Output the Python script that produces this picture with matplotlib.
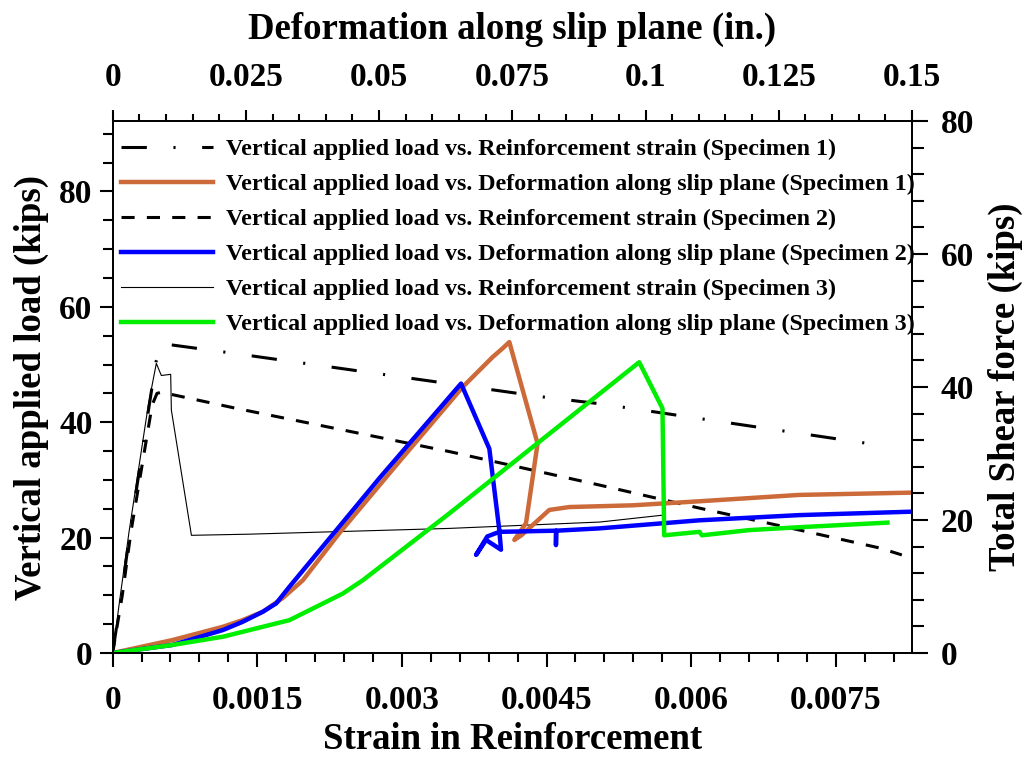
import matplotlib
matplotlib.use("Agg")
import matplotlib.pyplot as plt
from matplotlib.ticker import FixedLocator, MultipleLocator, FuncFormatter

plt.rcParams['font.family'] = ['Liberation Serif', 'DejaVu Serif']
plt.rcParams['font.weight'] = 'bold'

# ---- reinforcement strain vs. vertical load (bottom axis) ----
s1_strain = [0, 0.00009, 0.00018, 0.00028, 0.00038, 0.00045, 0.000522,
             0.001231, 0.004499, 0.005052, 0.007801]
s1_load = [0, 10, 21, 32, 43, 50.5, 53.6, 52.0, 44.3, 43.2, 36.4]

s2_strain = [0, 0.0001, 0.00019, 0.00030, 0.00041, 0.00046, 0.000505,
             0.000643, 0.001283, 0.003496, 0.005052, 0.006089, 0.007127,
             0.007956, 0.008185]
s2_load = [0, 10, 21, 32, 43, 45, 45.2, 44.7, 42.4, 34.9, 29.1, 25.1, 21.3,
           18.2, 17.0]

s3_strain = [0, 0.00008, 0.00017, 0.00027, 0.00037, 0.000453, 0.000505,
             0.000602, 0.000609, 0.000817, 0.001421, 0.003496, 0.005052,
             0.005709]
s3_load = [0, 10, 21, 32, 43, 50.2, 48.1, 48.3, 42.1, 20.4, 20.6, 21.6,
           22.7, 23.9]

# ---- deformation along slip plane vs. vertical load (top axis) ----
d1_def = [0, 0.01125, 0.02068, 0.02438, 0.02818, 0.03188, 0.03568, 0.04256,
          0.05381, 0.06568, 0.07131, 0.07318, 0.07444, 0.07974, 0.07757,
          0.07538, 0.0767, 0.08194, 0.08569, 0.09756, 0.1101, 0.1288, 0.15]
d1_load = [0, 2.25, 4.55, 5.7, 7.15, 9.5, 12.6, 20.8, 33.2, 46.1, 51.3,
           52.8, 53.9, 36.3, 22.5, 19.6, 20.4, 24.8, 25.3, 25.6, 26.3, 27.4,
           27.8]

d2_def = [0, 0.01125, 0.02068, 0.02438, 0.02818, 0.03069, 0.03319, 0.05006,
          0.06538, 0.07069, 0.07256, 0.07288, 0.07007, 0.0682, 0.0703,
          0.07256, 0.08319, 0.08319, 0.08325, 0.09131, 0.1101, 0.1288, 0.15]
d2_load = [0, 1.4, 3.98, 5.4, 7.15, 8.6, 11.5, 30.3, 46.7, 35.4, 21.3, 17.9,
           19.6, 17.0, 20.2, 21.0, 21.2, 18.7, 21.2, 21.6, 23.0, 23.9, 24.5]

d3_def = [0, 0.01125, 0.02068, 0.02818, 0.03319, 0.03819, 0.04318, 0.04693,
          0.06319, 0.09881, 0.10318, 0.1035, 0.1101, 0.1106, 0.1194, 0.1288,
          0.1454]
d3_load = [0, 1.4, 2.82, 4.55, 5.7, 8.0, 10.3, 12.6, 24.2, 50.4, 42.4, 20.4,
           21.0, 20.4, 21.3, 21.8, 22.6]

strain_ticks = [0, 0.0015, 0.003, 0.0045, 0.006, 0.0075]
def_ticks = [0, 0.025, 0.05, 0.075, 0.1, 0.125, 0.15]
load_ticks = [0, 20, 40, 60, 80]
shear_ticks = [0, 20, 40, 60, 80]

labels = [
    "Vertical applied load vs. Reinforcement strain (Specimen 1)",
    "Vertical applied load vs. Deformation along slip plane (Specimen 1)",
    "Vertical applied load vs. Reinforcement strain (Specimen 2)",
    "Vertical applied load vs. Deformation along slip plane (Specimen 2)",
    "Vertical applied load vs. Reinforcement strain (Specimen 3)",
    "Vertical applied load vs. Deformation along slip plane (Specimen 3)",
]

ORANGE = '#CD6A3A'
BLUE = '#0000FF'
GREEN = '#00EE00'

fig = plt.figure(figsize=(10.24, 7.58), dpi=100)
ax = fig.add_axes([0.110, 0.1385, 0.7806, 0.7018])
ax_top = ax.twiny()
ax_r = ax.twinx()

tick_fs = 24
lbl_fs = 26.5

l1, = ax.plot(s1_strain, s1_load, color='k', lw=2.2, dashes=(8.3, 8.7, 0.7, 8.7))
l3, = ax.plot(s2_strain, s2_load, color='k', lw=2.2, dashes=(4.3, 4.0))
l5, = ax.plot(s3_strain, s3_load, color='k', lw=0.8)

l2, = ax_top.plot(d1_def, d1_load, color=ORANGE, lw=3.2)
l4, = ax_top.plot(d2_def, d2_load, color=BLUE, lw=3.2)
l6, = ax_top.plot(d3_def, d3_load, color=GREEN, lw=3.2)

ax.set_xlim(0, 0.00829)
ax.set_ylim(0, 92.2)
ax_top.set_xlim(0, 0.15)
ax_r.set_ylim(0, 80)

fmt = FuncFormatter(lambda v, p: '%g' % v)

ax.xaxis.set_major_locator(FixedLocator(strain_ticks))
ax.xaxis.set_minor_locator(MultipleLocator(0.0003))
ax.xaxis.set_major_formatter(fmt)
ax.yaxis.set_major_locator(FixedLocator(load_ticks))
ax.yaxis.set_minor_locator(MultipleLocator(5))
ax.yaxis.set_major_formatter(fmt)

ax_top.xaxis.set_major_locator(FixedLocator(def_ticks))
ax_top.xaxis.set_minor_locator(MultipleLocator(0.005))
ax_top.xaxis.set_major_formatter(fmt)

ax_r.yaxis.set_major_locator(FixedLocator(shear_ticks))
ax_r.yaxis.set_minor_locator(MultipleLocator(4))
ax_r.yaxis.set_major_formatter(fmt)

for a in (ax, ax_top, ax_r):
    for sp in a.spines.values():
        sp.set_linewidth(1.1)

ax.tick_params(axis='x', which='major', direction='out', length=10, width=1.5,
               labelsize=tick_fs, pad=13)
ax.tick_params(axis='x', which='minor', direction='out', length=6.5, width=1.5)
ax.tick_params(axis='y', which='major', direction='out', length=9.5, width=1.5,
               labelsize=tick_fs, pad=5)
ax.tick_params(axis='y', which='minor', direction='out', length=7, width=1.5)
ax_top.tick_params(axis='x', which='major', direction='out', length=8, width=1.5,
                   labelsize=tick_fs, pad=12)
ax_top.tick_params(axis='x', which='minor', direction='out', length=5, width=1.5)
ax_r.tick_params(axis='y', which='major', direction='out', length=11.5, width=1.5,
                 labelsize=tick_fs, pad=9)
ax_r.tick_params(axis='y', which='minor', direction='out', length=8.5, width=1.5)

for a in (ax, ax_top, ax_r):
    for t in a.get_xticklabels() + a.get_yticklabels():
        t.set_fontweight('bold')

ax.set_xlabel("Strain in Reinforcement", fontsize=lbl_fs, fontweight='bold', labelpad=4)
ax.set_ylabel("Vertical applied load (kips)", fontsize=lbl_fs, fontweight='bold', labelpad=7)
ax_top.set_xlabel("Deformation along slip plane (in.)", fontsize=lbl_fs,
                  fontweight='bold', labelpad=17)
ax_r.set_ylabel("Total Shear force (kips)", fontsize=lbl_fs, fontweight='bold', labelpad=10)

handles = [l1, l2, l3, l4, l5, l6]
leg = ax_r.legend(handles, labels, loc='upper left', bbox_to_anchor=(-0.004, 0.99),
                  frameon=False, handlelength=3.8, handletextpad=0.55,
                  labelspacing=0.55, borderaxespad=0.2, borderpad=0.3,
                  prop={'weight': 'bold', 'size': 17.3})

fig.savefig("out.png", dpi=100)
